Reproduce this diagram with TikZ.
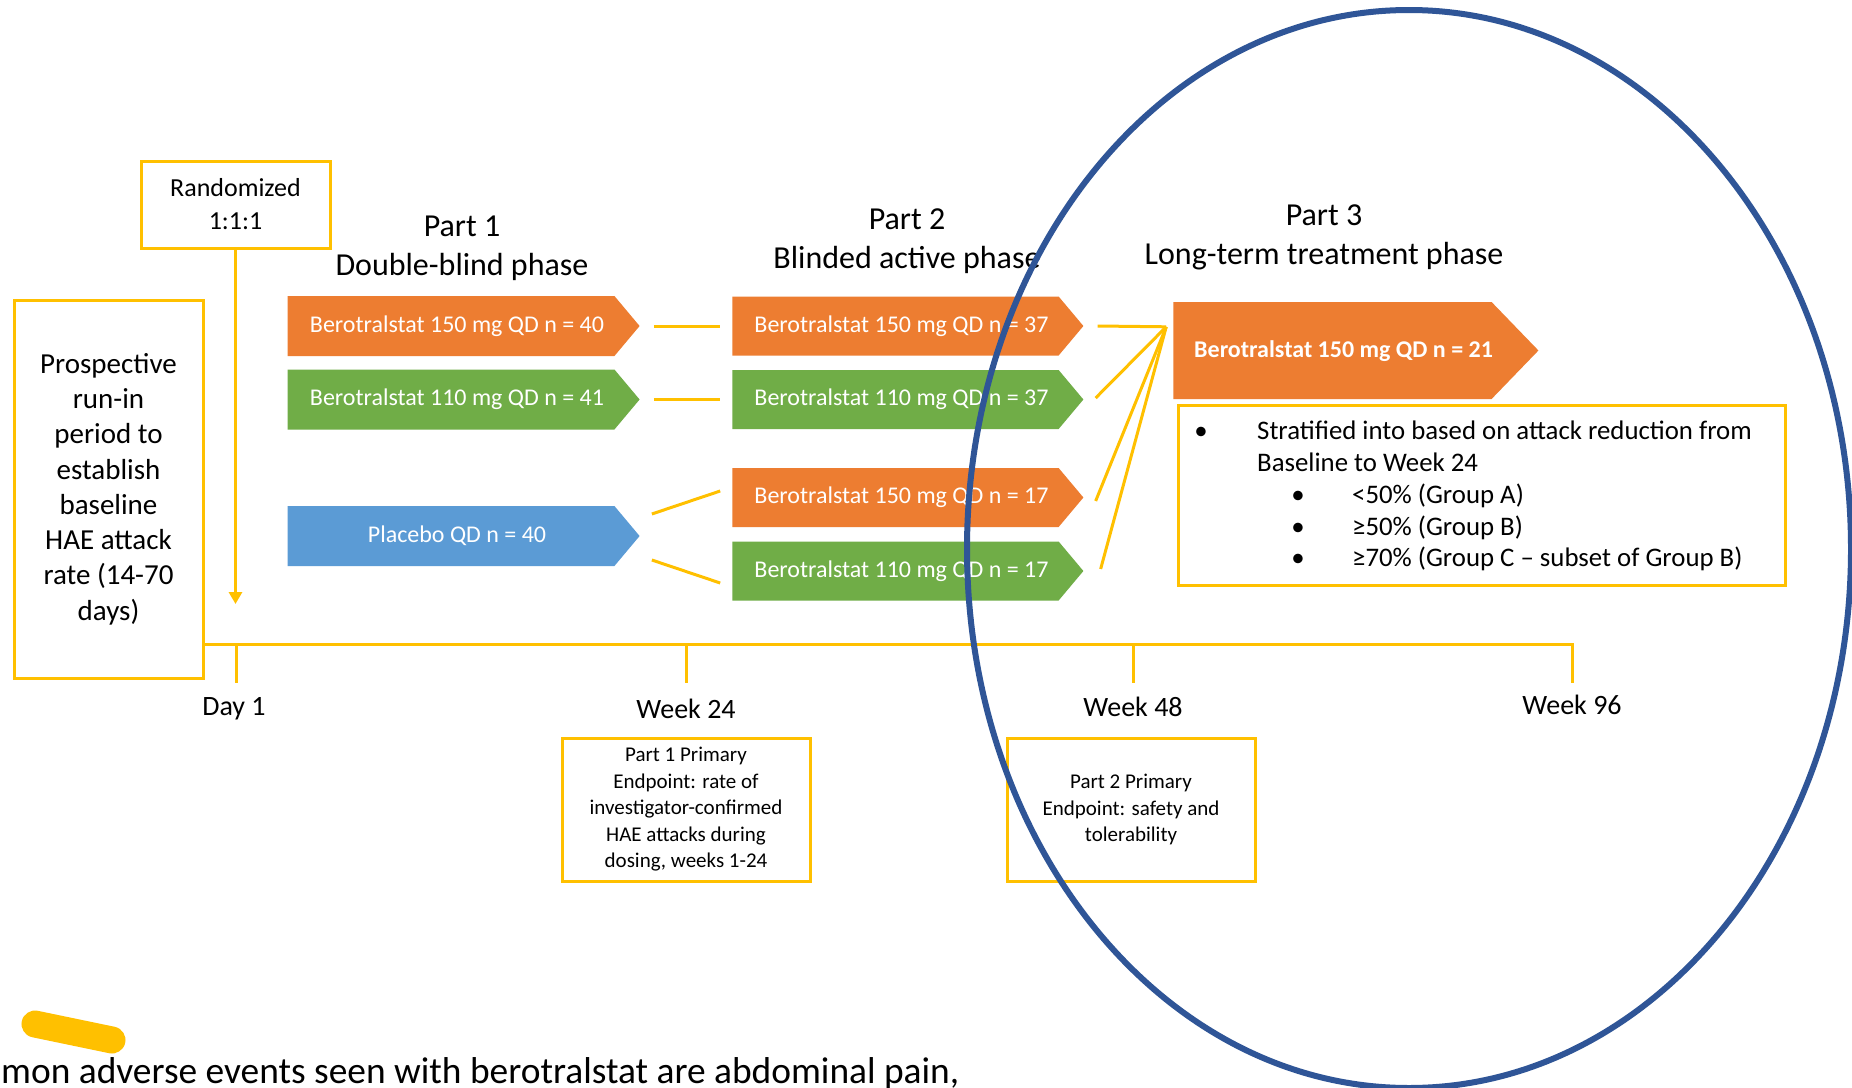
\documentclass[tikz,border=0pt]{standalone}
\usepackage{fontspec}
\setmainfont{Carlito}
\usetikzlibrary{shapes.symbols,arrows.meta,calc}
\definecolor{orng}{HTML}{ED7D31}
\definecolor{grn}{HTML}{70AD47}
\definecolor{blu}{HTML}{5B9BD5}
\definecolor{yel}{HTML}{FFC000}
\definecolor{navy}{HTML}{2F5597}
\newcommand{\fsz}[2]{\fontsize{#1pt}{#2pt}\selectfont}
\begin{document}
\begin{tikzpicture}[x=1pt,y=-1pt,
  arm/.style={shape=signal, signal to=east, signal from=nowhere, signal pointer angle=100,
    text=white, inner sep=0pt, font=\fsz{24}{29}, minimum height=60pt, minimum width=352pt,
    execute at begin node={\hspace*{12pt}}},
  ybox/.style={draw=yel, line width=3pt, inner sep=0pt, align=center},
  yline/.style={draw=yel, line width=3pt},
  title/.style={align=center, font=\fsz{32}{39}},
  tlabel/.style={font=\fsz{28}{34}},
  strat/.style={anchor=base west, font=\fsz{26.8}{32}, inner sep=0pt},
  bul/.style={anchor=base, font=\fsz{26.8}{32}, inner sep=0pt}
]
\useasboundingbox[fill=white] (0,0) rectangle (1852,1087);

% titles
\node[title] (t1) at (462,248) {Part 1\\Double-blind phase};
\node[title] (t2) at (907,241) {Part 2\\Blinded active phase};
\node[title] (t3) at (1324,237.5) {Part 3\\Long-term treatment phase};

% left boxes
\node[ybox, minimum width=189pt, minimum height=87pt, font=\fsz{26}{33}] (rand) at (235.5,204.5) {Randomized\\1:1:1};
\node[ybox, minimum width=189pt, minimum height=378pt, font=\fsz{29}{35.3}] (prosp) at (108.5,489)
  {Prospective\\run-in\\period to\\establish\\baseline\\HAE attack\\rate (14-70\\days)};
\coordinate (rarr) at (235.5,604);
\draw[yline, -{Triangle[width=13pt,length=12pt]}] (rand.south) -- (rarr);

% Part 1 arms
\node[arm, fill=orng] (a1) at (451,326) {Berotralstat 150 mg QD n = 40};
\node[arm, fill=grn] (a2) at (451,399.5) {Berotralstat 110 mg QD n = 41};
\node[arm, fill=blu] (a3) at (451,536) {Placebo QD n = 40};

% Part 2 arms
\node[arm, fill=orng, minimum width=351pt, minimum height=59pt] (b1) at (895.5,326) {Berotralstat 150 mg QD n = 37};
\node[arm, fill=grn, minimum width=351pt, minimum height=59pt] (b2) at (895.5,399.5) {Berotralstat 110 mg QD n = 37};
\node[arm, fill=orng, minimum width=351pt, minimum height=59pt] (b3) at (895.5,497.5) {Berotralstat 150 mg QD n = 17};
\node[arm, fill=grn, minimum width=351pt, minimum height=59pt] (b4) at (895.5,571) {Berotralstat 110 mg QD n = 17};

% Part 3 arm
\node[arm, fill=orng, minimum width=365pt, minimum height=97pt, signal pointer angle=92,
  execute at begin node={}] (c1) at (1332.5,350.5) {};
\node[anchor=west, text=white, inner sep=0pt, font=\fsz{24}{29}\bfseries] (c1t) at (1194,351.5) {Berotralstat 150 mg QD n = 21};

% stratified box
\node[ybox, minimum width=607pt, minimum height=180pt] (sbox) at (1481.5,495) {};
\node[bul] (sb1) at (1201,439) {•};
\node[strat] (st1) at (1257,439) {Stratified into based on attack reduction from};
\node[strat] (st2) at (1257,471) {Baseline to Week 24};
\node[bul] (sb2) at (1298,503) {•};
\node[strat] (st3) at (1352,503) {<50\% (Group A)};
\node[bul] (sb3) at (1298,535) {•};
\node[strat] (st4) at (1352,535) {≥50\% (Group B)};
\node[bul] (sb4) at (1298,566) {•};
\node[strat] (st5) at (1352,566) {≥70\% (Group C -- subset of Group B)};

% connectors part 1 -> part 2
\draw[yline] ($(a1.east)+(14,0)$) -- ($(b1.west)+(-12,0)$);
\draw[yline] ($(a2.east)+(14,0)$) -- ($(b2.west)+(-12,0)$);
\draw[yline] ($(a3.east)+(12,-22)$) -- ($(b3.west)+(-12,-6.5)$);
\draw[yline] ($(a3.east)+(12,24)$) -- ($(b4.west)+(-12,12)$);

% connectors part 2 -> part 3
\coordinate (hub) at ($(c1.north west)+(-7,25)$);
\draw[yline] ($(b1.east)+(14,0)$) -- (hub);
\draw[yline] ($(b2.east)+(12,-1.5)$) -- (hub);
\draw[yline] ($(b3.east)+(12,3.5)$) -- (hub);
\draw[yline] ($(b4.east)+(17,-2)$) -- (hub);

% timeline
\coordinate (tly) at (0,644);
\coordinate (tl0) at (prosp.east |- tly);
\coordinate (tk1) at (236,644);
\coordinate (tk24) at (686,644);
\coordinate (tk48) at (1133,644);
\coordinate (tk96) at (1572,644);
\draw[yline] (tl0) -- (tk96) -- ++(0,39);
\draw[yline] (tk1) -- ++(0,39);
\draw[yline] (tk24) -- ++(0,39);
\draw[yline] (tk48) -- ++(0,39);
\node[tlabel] (d1) at (234,709) {Day 1};
\node[tlabel] (w24) at (686,709) {Week 24};
\node[tlabel] (w48) at (1133,707) {Week 48};
\node[tlabel] (w96) at (1572,705) {Week 96};

% endpoint boxes
\node[ybox, minimum width=248pt, minimum height=143pt, font=\fsz{21}{26.5}] (e1) at (686,809.5)
  {Part 1 Primary\\Endpoint: rate of\\investigator-confirmed\\HAE attacks during\\dosing, weeks 1-24};
\node[ybox, minimum width=248pt, minimum height=143pt, font=\fsz{21}{26.5}] (e2) at (1131,809.5)
  {Part 2 Primary\\Endpoint: safety and\\tolerability};

% highlighter mark and cut-off footer text
\draw[yel, line width=27pt, line cap=round] (35,1024) -- (112,1040);
\node[anchor=base west, font=\fsz{37.4}{44}, inner sep=0pt] (foot) at (1,1083)
  {mon adverse events seen with berotralstat are abdominal pain,};

% blue ellipse
\draw[navy, line width=6pt] (1409,549) ellipse [x radius=442pt, y radius=539pt];
\end{tikzpicture}
\end{document}
